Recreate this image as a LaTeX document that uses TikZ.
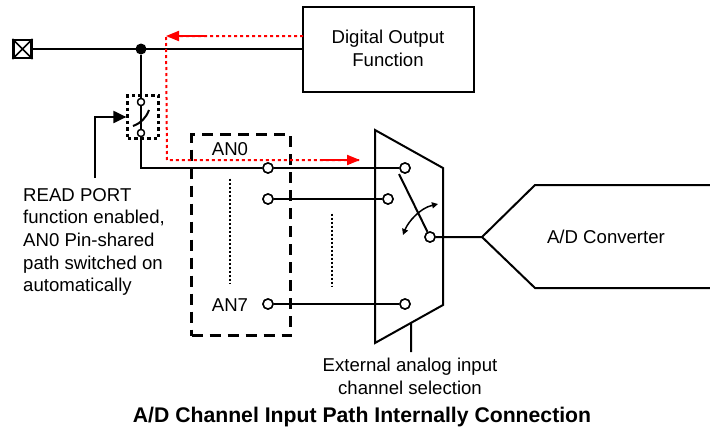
\documentclass[tikz,border=0pt]{standalone}
\usepackage{fontspec}
\setmainfont{Liberation Sans}
\usetikzlibrary{arrows.meta}
\tikzset{
  pin/.style={circle,draw,line width=1.5pt,fill=white,inner sep=0pt,minimum size=10pt},
  smallpin/.style={circle,draw,line width=1.3pt,fill=white,inner sep=0pt,minimum size=7pt},
  wire/.style={line width=2pt},
  txt/.style={inner sep=0pt,font=\fontsize{18.6}{22.7}\selectfont},
  redpath/.style={red,line width=2pt,dash pattern=on 3pt off 3pt},
  redtip/.style={red,line width=2pt,-{Triangle[length=13pt,width=10pt]}}
}
\begin{document}
\begin{tikzpicture}[x=1pt,y=-1pt]
            \useasboundingbox (0,0) rectangle (710,429);
            % port on the left
            \node (pad) at (22.5,49) [draw,line width=2.2pt,minimum size=18pt,inner sep=0pt] {};
            \draw[line width=1.5pt] (pad.north west) -- (pad.south east) (pad.north east) -- (pad.south west);
            \node (join) at (141,49) [circle,fill,inner sep=0pt,minimum size=11pt] {};
            \node (dout) at (388,49.5) [draw,line width=2pt,minimum width=171pt,minimum height=85pt,inner sep=0pt] {};
            \coordinate (doutw) at (dout.west |- join);
            \node (tdout) at (388,48) [txt,align=center] {Digital Output\\Function};
            % read port switch
            \node (swbox) at (143,117) [draw,line width=2.2pt,dash pattern=on 3.5pt off 3pt,minimum width=31pt,minimum height=43pt,inner sep=0pt] {};
            \node (swa) at (141,102) [smallpin] {};
            \node (swb) at (141,133) [smallpin] {};
            \coordinate (corner) at (141,168);
            \coordinate (bladea) at (133,126);
            \coordinate (bladeb) at (149,110);
            \coordinate (note) at (95,178);
            \coordinate (notec) at (95,117);
            % analog channels
            \node (chbox) at (241,235) [draw,line width=2.2pt,dash pattern=on 11pt off 7pt,minimum width=99pt,minimum height=201pt,inner sep=0pt] {};
            \node (an0) at (268,168) [pin] {};
            \node (an1) at (268,199) [pin] {};
            \node (an7) at (268,304) [pin] {};
            \node (in0) at (405,168) [pin] {};
            \node (in1) at (388,199) [pin] {};
            \node (in7) at (405,304) [pin] {};
            \node (com) at (430,237) [pin] {};
            \coordinate (ma) at (375,130);
            \coordinate (mb) at (443,168);
            \coordinate (mc) at (443,305);
            \coordinate (md) at (375,343);
            \coordinate (sel) at (411,323);
            \coordinate (seld) at (411,352);
            \coordinate (blade) at (399,174);
            \coordinate (arca) at (403,235);
            \coordinate (arcb) at (438,204);
            \coordinate (ada) at (710,185);
            \coordinate (adb) at (535,185);
            \coordinate (adc) at (482,237);
            \coordinate (add) at (535,288);
            \coordinate (ade) at (710,288);
            % red read path
            \coordinate (ra) at (303,36);
            \coordinate (rb) at (166,36);
            \coordinate (rc) at (167,160);
            \coordinate (rd) at (360,160);
            \coordinate (re) at (205,36);
            \coordinate (rf) at (323,160);
            \draw[wire] (pad) -- (doutw) (join) -- (swa) (swa) -- (swb) (swb) -- (corner) -- (an0) (an0) -- (in0) (an1) -- (in1) (an7) -- (in7);
            \node[smallpin] at (swa) {};
            \node[smallpin] at (swb) {};
            \node[pin] at (an0) {};
            \node[pin] at (an1) {};
            \node[pin] at (an7) {};
            \node[pin] at (in0) {};
            \node[pin] at (in1) {};
            \node[pin] at (in7) {};
            \draw[wire] (bladea) .. controls (141,123) and (146,118) .. (bladeb);
            \draw[wire,-{Triangle[length=13pt,width=12pt]}] (note) -- (notec) -- (swbox.west);
            \draw[wire] (ma) -- (mb) -- (mc) -- (md) -- cycle;
            \draw[wire] (sel) -- (seld) (blade) -- (com) (com) -- (adc);
            \node[pin] at (com) {};
            \draw[wire] (ada) -- (adb) -- (adc) -- (add) -- (ade);
            \draw[line width=1.5pt,{Triangle[length=6pt,width=6pt]}-{Triangle[length=6pt,width=6pt]}] (arca) .. controls (408,222) and (420,208) .. (arcb);
            \node (dota) at (230,178) [inner sep=0pt] {};
            \node (dotb) at (230,284) [inner sep=0pt] {};
            \node (dotc) at (332,213) [inner sep=0pt] {};
            \node (dotd) at (332,288) [inner sep=0pt] {};
            \draw[line width=2pt,dash pattern=on 2pt off 2pt] (dota) -- (dotb) (dotc) -- (dotd);
            \draw[redpath] (ra) -- (rb) -- (rc) -- (rd);
            \draw[redtip] (re) -- (rb);
            \draw[redtip] (rf) -- (rd);
            % texts
            \node (tan0) at (230,149) [txt] {AN0};
            \node (tan7) at (230,305) [txt] {AN7};
            \node (tad) at (606,237) [txt] {A/D Converter};
            \node (tread) at (23,242) [txt,anchor=west,align=left] {READ PORT\\function enabled,\\AN0 Pin-shared\\path switched on\\automatically};
            \node (tsel) at (410,376.5) [txt,align=center] {External analog input\\channel selection};
            \node (ttitle) at (362,417) [txt,font=\fontsize{21.2}{24}\selectfont\bfseries] {A/D Channel Input Path Internally Connection};
        \end{tikzpicture}
\end{document}
